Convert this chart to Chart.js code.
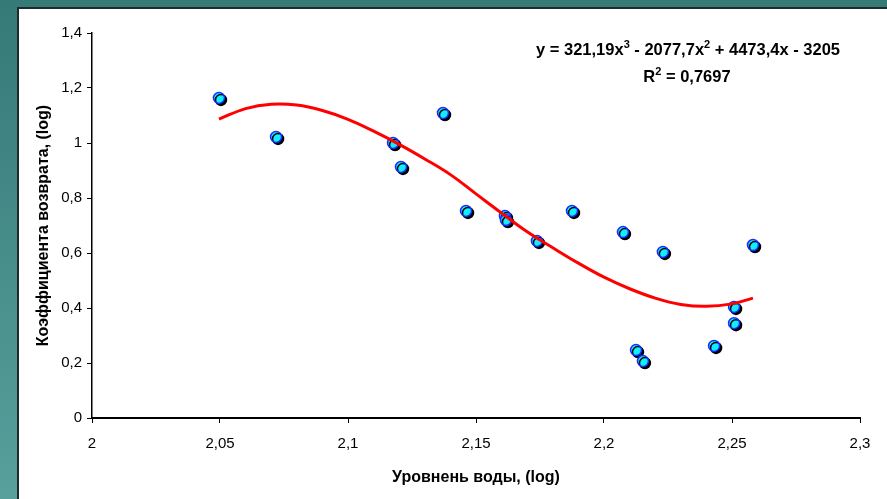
<!DOCTYPE html>
<html>
<head>
<meta charset="utf-8">
<script src="https://cdn.jsdelivr.net/npm/chart.js@4/dist/chart.umd.min.js"></script>
<style>
  html, body { margin: 0; padding: 0; }
  body {
    width: 887px; height: 499px; overflow: hidden; position: relative;
    background: linear-gradient(to bottom, #367a78 0%, #4a908d 60%, #57a09c 100%);
  }
  #panel {
    position: absolute; left: 17px; top: 7px; right: 0; bottom: 0;
    background: #fff; border-left: 2px solid #1f2b2b; border-top: 2px solid #1f2b2b;
  }
  #chart { position: absolute; left: 0; top: 0; }
</style>
</head>
<body>
<div id="panel"></div>
<canvas id="chart" width="887" height="499"></canvas>
<script>
  // Observed points
  let waterLevel = [2.0496, 2.0719, 2.1176, 2.1207, 2.1371, 2.1461, 2.1613, 2.1617, 2.1738,
                    2.1875, 2.2074, 2.2125, 2.2152, 2.2230, 2.2430, 2.2508, 2.2508, 2.2582];
  let returnCoef = [1.164, 1.022, 1.0, 0.913, 1.109, 0.753, 0.735, 0.72, 0.644,
                    0.753, 0.676, 0.247, 0.207, 0.604, 0.262, 0.404, 0.345, 0.629];

  // Trend line (polynomial, 3rd order)
  let trendX = [2.0496, 2.06, 2.07, 2.08, 2.09, 2.10, 2.11, 2.12, 2.13, 2.14, 2.15,
                2.16, 2.17, 2.18, 2.19, 2.20, 2.21, 2.22, 2.23, 2.24, 2.25, 2.2582];
  let trendY = [1.087, 1.125, 1.141, 1.138, 1.118, 1.086, 1.043, 0.995, 0.942, 0.885, 0.815,
                0.745, 0.677, 0.619, 0.563, 0.512, 0.470, 0.436, 0.413, 0.406, 0.415, 0.436];

  let equationText = ['y = 321,19x', '3', ' - 2077,7x', '2', ' + 4473,4x - 3205'];
  let r2Text = ['R', '2', ' = 0,7697'];

  const FONT = "'Liberation Sans', Arial, sans-serif";

  function fmt(v) {
    return String(Math.round(v * 100) / 100).replace('.', ',');
  }

  // draw text pieces, odd pieces are superscripts
  function drawPieces(ctx, pieces, cx, y) {
    const big = 'bold 16.5px ' + FONT, small = 'bold 11px ' + FONT;
    let total = 0;
    pieces.forEach((p, i) => { ctx.font = i % 2 ? small : big; total += ctx.measureText(p).width; });
    let x = cx - total / 2;
    pieces.forEach((p, i) => {
      ctx.font = i % 2 ? small : big;
      ctx.fillText(p, x, i % 2 ? y - 7 : y);
      x += ctx.measureText(p).width;
    });
  }

  const extras = {
    id: 'extras',
    beforeDatasetDraw(chart, args) {
      if (args.index === 1) {
        const ctx = chart.ctx;
        ctx.save();
        ctx.shadowColor = '#000';
        ctx.shadowOffsetX = 2;
        ctx.shadowOffsetY = 2;
        ctx.shadowBlur = 0;
      }
    },
    afterDatasetDraw(chart, args) {
      if (args.index === 1) chart.ctx.restore();
    },
    afterDraw(chart) {
      const ctx = chart.ctx;
      ctx.save();
      ctx.fillStyle = '#000';
      ctx.textBaseline = 'alphabetic';
      drawPieces(ctx, equationText, 688, 55);
      drawPieces(ctx, r2Text, 687, 82);
      ctx.restore();
    }
  };

  new Chart(document.getElementById('chart').getContext('2d'), {
    type: 'scatter',
    data: {
      datasets: [{
        type: 'line',
        label: 'trend',
        data: trendX.map((x, i) => ({ x: x, y: trendY[i] })),
        borderColor: '#ff0000',
        borderWidth: 3,
        pointRadius: 0,
        tension: 0.4,
        fill: false
      }, {
        label: 'data',
        data: waterLevel.map((x, i) => ({ x: x, y: returnCoef[i] })),
        backgroundColor: '#10eeff',
        borderColor: '#1c2cff',
        borderWidth: 1.5,
        pointRadius: 5.5,
        pointHoverRadius: 5.5
      }]
    },
    options: {
      responsive: false,
      animation: false,
      devicePixelRatio: 1,
      layout: { padding: { left: 30, top: 33, right: 27, bottom: 8 } },
      plugins: { legend: { display: false }, tooltip: { enabled: false } },
      scales: {
        x: {
          type: 'linear', min: 2, max: 2.3,
          ticks: { stepSize: 0.05, color: '#000', font: { family: FONT, size: 15 }, padding: 12,
                   callback: v => fmt(v), maxRotation: 0 },
          grid: { display: true, drawOnChartArea: false, color: '#000', tickLength: 5 },
          border: { color: '#000', width: 2 },
          title: { display: true, text: 'Уровнень воды, (log)', color: '#000',
                   font: { family: FONT, size: 16, weight: 'bold' }, padding: { top: 6 } },
          afterFit(scale) { scale.height = 499 - 418 - 8; }
        },
        y: {
          type: 'linear', min: 0, max: 1.4,
          ticks: { stepSize: 0.2, color: '#000', font: { family: FONT, size: 15 }, padding: 5,
                   callback: v => fmt(v) },
          grid: { display: true, drawOnChartArea: false, color: '#000', tickLength: 5 },
          border: { color: '#000', width: 1.5 },
          title: { display: true, text: 'Коэффициента возврата, (log)', color: '#000',
                   font: { family: FONT, size: 16, weight: 'bold' }, padding: { bottom: 6 } },
          afterFit(scale) { scale.width = 92 - 30; }
        }
      }
    },
    plugins: [extras]
  });
</script>
</body>
</html>
